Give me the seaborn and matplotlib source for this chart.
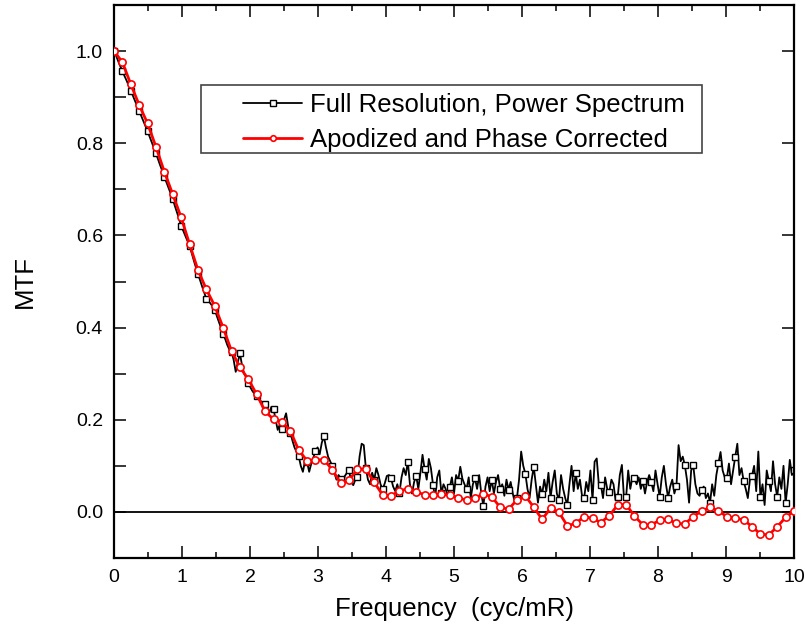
import numpy as np
import pandas as pd
import matplotlib
matplotlib.use("Agg")
import matplotlib.pyplot as plt
import seaborn as sns
from matplotlib.ticker import MultipleLocator
from matplotlib.patches import Rectangle

# ---------------- data ----------------
series_full = "Full Resolution, Power Spectrum"
series_apod = "Apodized and Phase Corrected"

# full-resolution power spectrum MTF (4 samples per marker step)
mtf_full = [
    1.000, 0.990, 0.978, 0.967, 0.957, 0.946, 0.936, 0.925,
    0.914, 0.903, 0.892, 0.881, 0.870, 0.859, 0.848, 0.837,
    0.826, 0.814, 0.802, 0.790, 0.778, 0.765, 0.752, 0.740,
    0.727, 0.715, 0.703, 0.691, 0.679, 0.664, 0.650, 0.636,
    0.621, 0.610, 0.599, 0.588, 0.577, 0.562, 0.546, 0.531,
    0.516, 0.503, 0.489, 0.476, 0.462, 0.458, 0.452, 0.446,
    0.439, 0.425, 0.412, 0.399, 0.387, 0.375, 0.362, 0.352,
    0.348, 0.330, 0.304, 0.325, 0.344, 0.318, 0.300, 0.292,
    0.280, 0.270, 0.262, 0.256, 0.251, 0.246, 0.240, 0.238,
    0.235, 0.228, 0.215, 0.228, 0.224, 0.200, 0.178, 0.190,
    0.179, 0.200, 0.214, 0.185, 0.172, 0.155, 0.140, 0.130,
    0.121, 0.100, 0.087, 0.110, 0.108, 0.087, 0.105, 0.118,
    0.132, 0.140, 0.125, 0.150, 0.164, 0.140, 0.120, 0.110,
    0.100, 0.085, 0.070, 0.080, 0.072, 0.060, 0.078, 0.085,
    0.090, 0.065, 0.058, 0.070, 0.075, 0.120, 0.148, 0.145,
    0.095, 0.070, 0.060, 0.085, 0.070, 0.095, 0.080, 0.060,
    0.049, 0.062, 0.078, 0.080, 0.073, 0.055, 0.045, 0.060,
    0.041, 0.075, 0.095, 0.080, 0.109, 0.060, 0.040, 0.065,
    0.078, 0.050, 0.085, 0.124, 0.093, 0.070, 0.115, 0.095,
    0.059, 0.030, 0.075, 0.090, 0.040, 0.060, 0.050, 0.035,
    0.054, 0.075, 0.040, 0.080, 0.068, 0.098, 0.072, 0.060,
    0.050, 0.075, 0.030, 0.060, 0.073, 0.050, 0.080, 0.040,
    0.013, 0.055, 0.075, 0.045, 0.070, 0.040, 0.065, 0.080,
    0.050, 0.060, 0.035, 0.070, 0.048, 0.065, 0.040, 0.020,
    0.030, 0.070, 0.131, 0.100, 0.083, 0.050, 0.030, 0.070,
    0.098, 0.060, 0.020, 0.055, 0.038, 0.070, 0.045, 0.085,
    0.031, 0.065, 0.090, 0.040, 0.025, 0.080, 0.050, 0.030,
    0.015, 0.060, 0.100, 0.045, 0.084, 0.050, 0.070, 0.035,
    0.030, 0.065, 0.045, 0.090, 0.026, 0.109, 0.116, 0.060,
    0.058, 0.030, 0.075, 0.050, 0.043, 0.070, 0.060, 0.025,
    0.032, 0.080, 0.102, 0.030, 0.032, 0.090, 0.050, 0.075,
    0.073, 0.060, 0.075, 0.050, 0.067, 0.040, 0.065, 0.080,
    0.065, 0.045, 0.090, 0.060, 0.033, 0.075, 0.100, 0.060,
    0.031, 0.055, 0.070, 0.040, 0.057, 0.145, 0.110, 0.120,
    0.101, 0.070, 0.020, 0.090, 0.101, 0.060, 0.040, 0.035,
    0.048, 0.055, 0.030, 0.040, 0.020, 0.060, 0.035, 0.080,
    0.106, 0.130, 0.090, 0.075, 0.073, 0.105, 0.060, 0.090,
    0.120, 0.148, 0.080, 0.095, 0.067, 0.050, 0.030, 0.070,
    0.079, 0.100, 0.045, 0.131, 0.032, 0.060, 0.015, 0.090,
    0.067, 0.045, 0.110, 0.060, 0.033, 0.075, 0.050, 0.100,
    0.019, 0.060, 0.113, 0.080, 0.090,
]
freq_full = np.linspace(0, 10, len(mtf_full))

# apodized and phase corrected MTF
mtf_apod = [
    1.000, 0.976, 0.928, 0.883, 0.843, 0.792, 0.738, 0.689, 0.639, 0.581,
    0.525, 0.483, 0.447, 0.400, 0.349, 0.314, 0.288, 0.255, 0.218, 0.201,
    0.196, 0.176, 0.134, 0.111, 0.113, 0.113, 0.092, 0.062, 0.069, 0.093,
    0.093, 0.064, 0.037, 0.035, 0.046, 0.050, 0.044, 0.037, 0.036, 0.038,
    0.037, 0.031, 0.025, 0.030, 0.039, 0.033, 0.010, 0.006, 0.026, 0.035,
    0.010, -0.016, 0.008, -0.001, -0.030, -0.025, -0.010, -0.014, -0.023, -0.008,
    0.015, 0.016, -0.009, -0.028, -0.028, -0.018, -0.016, -0.025, -0.026, -0.010,
    0.002, 0.010, 0.002, -0.010, -0.014, -0.017, -0.032, -0.048, -0.050, -0.032,
    -0.012, 0.002,
]
freq_apod = np.linspace(0, 10, len(mtf_apod))

x_ticks = [0, 1, 2, 3, 4, 5, 6, 7, 8, 9, 10]
y_ticks = [0.0, 0.2, 0.4, 0.6, 0.8, 1.0]
x_label = "Frequency  (cyc/mR)"
y_label = "MTF"

df_full = pd.DataFrame({"freq": freq_full, "mtf": mtf_full})
df_apod = pd.DataFrame({"freq": freq_apod, "mtf": mtf_apod})

# ---------------- figure ----------------
sns.set_style("ticks")
plt.rcParams['font.family'] = ['Liberation Sans', 'DejaVu Sans']
plt.rcParams['text.color'] = 'black'
plt.rcParams['axes.labelcolor'] = 'black'
plt.rcParams['xtick.color'] = 'black'
plt.rcParams['ytick.color'] = 'black'

W, H = 805, 636
fig = plt.figure(figsize=(W / 100, H / 100), dpi=100)
L, R, T, B = 114, 794, 5, 558
ax = fig.add_axes([L / W, 1 - B / H, (R - L) / W, (B - T) / H])

ax.axhline(0, color='black', lw=1.3, zorder=1)

sns.lineplot(data=df_full, x="freq", y="mtf", ax=ax, color='black', lw=1.3,
             marker='s', markersize=4.4, markerfacecolor='white',
             markeredgecolor='black', markeredgewidth=1.0, markevery=4,
             label=series_full, zorder=2, sort=False)
sns.lineplot(data=df_apod, x="freq", y="mtf", ax=ax, color='red', lw=2.0,
             marker='o', markersize=5.2, markerfacecolor='white',
             markeredgecolor='red', markeredgewidth=1.2,
             label=series_apod, zorder=3, sort=False)

ax.set_xlim(0, 10)
ax.set_ylim(-0.1, 1.1)
ax.set_xticks(x_ticks)
ax.set_xticklabels([str(v) for v in x_ticks])
ax.set_yticks(y_ticks)
ax.set_yticklabels([f"{v:.1f}" for v in y_ticks])
ax.xaxis.set_minor_locator(MultipleLocator(0.5))
ax.yaxis.set_minor_locator(MultipleLocator(0.1))

for s in ax.spines.values():
    s.set_linewidth(1.6)
    s.set_color('black')

ax.tick_params(which='major', direction='in', length=8.5, width=1.1,
               top=True, right=True, labelsize=14, colors='black', pad=8)
ax.tick_params(axis='x', which='minor', direction='in', length=4.3, width=1.1,
               top=True, bottom=True)
ax.tick_params(axis='y', which='minor', direction='in', length=8.5, width=1.1,
               left=True, right=False)

ax.set_xlabel(x_label, fontsize=18.5, color='black')
ax.set_ylabel(y_label, fontsize=18.5, color='black')
ax.xaxis.set_label_coords(0.5, -0.07)
ax.xaxis.label.set_va('top')
ax.yaxis.set_label_coords(-0.113, 0.5)

leg = ax.legend(loc='upper left', bbox_to_anchor=(243 / W, 1 - 93 / H),
                bbox_transform=fig.transFigure, frameon=False, fontsize=18.5,
                borderpad=0, borderaxespad=0, handlelength=2.3,
                handletextpad=0.3, labelspacing=0.42, numpoints=1)
for h in leg.legend_handles:
    h.set_markersize(4.0)
for t in leg.get_texts():
    t.set_color('black')

fig.add_artist(Rectangle((201 / W, 1 - 153 / H), (702 - 201) / W, (153 - 85) / H,
                         transform=fig.transFigure, fill=False,
                         edgecolor='#444444', lw=1.2, zorder=5))

fig.savefig("out.png", dpi=100)
